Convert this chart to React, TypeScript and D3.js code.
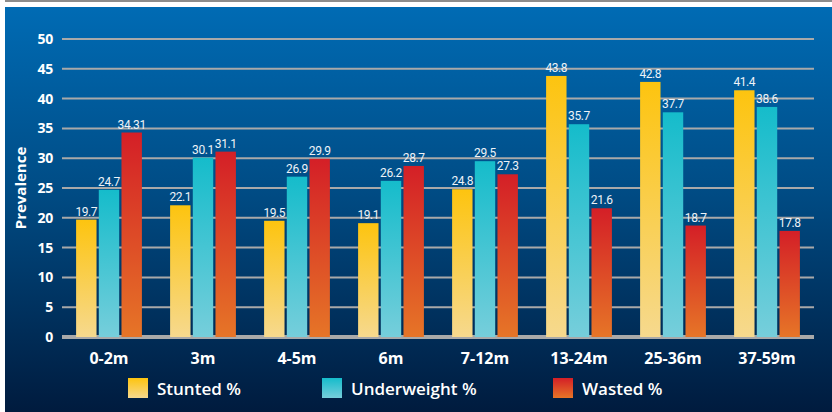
import * as d3 from "d3";

const categories = ["0-2m", "3m", "4-5m", "6m", "7-12m", "13-24m", "25-36m", "37-59m"];
const stunted = [19.7, 22.1, 19.5, 19.1, 24.8, 43.8, 42.8, 41.4];
const underweight = [24.7, 30.1, 26.9, 26.2, 29.5, 35.7, 37.7, 38.6];
const wasted = [34.31, 31.1, 29.9, 28.7, 27.3, 21.6, 18.7, 17.8];
const yTicks = [0, 5, 10, 15, 20, 25, 30, 35, 40, 45, 50];

const series = [
  { key: "stunted", label: "Stunted %", values: stunted, top: "#fdc40f", bottom: "#f6d98e", legendX: 128 },
  { key: "underweight", label: "Underweight %", values: underweight, top: "#15bccb", bottom: "#76cedb", legendX: 322 },
  { key: "wasted", label: "Wasted %", values: wasted, top: "#d41f27", bottom: "#e67527", legendX: 553 },
];

const W = 832;
const H = 412;
const left = 62;
const right = 814;

export default function App() {
  const x0 = d3.scaleBand<string>().domain(categories).range([left, right]).paddingInner(0.3).paddingOuter(0.15);
  const x1 = d3.scaleBand<string>().domain(series.map((s) => s.key)).range([0, x0.bandwidth()]).paddingInner(0.1);
  const y = d3.scaleLinear().domain([0, 50]).range([337, 39]);

  return (
    <>
      <style>{`body{margin:0}`}</style>
      <svg width={W} height={H} style={{ display: "block" }}>
        <defs>
          <linearGradient id="bg" x1="0" y1="0" x2="0" y2="1">
            <stop offset="0%" stopColor="#006bb4" />
            <stop offset="45%" stopColor="#004c85" />
            <stop offset="100%" stopColor="#001b3e" />
          </linearGradient>
          {series.map((s) => (
            <linearGradient key={s.key} id={`g-${s.key}`} x1="0" y1="0" x2="0" y2="1">
              <stop offset="0%" stopColor={s.top} />
              <stop offset="100%" stopColor={s.bottom} />
            </linearGradient>
          ))}
        </defs>

        <rect x={0} y={0} width={W} height={H} fill="#ffffff" />
        <rect x={5} y={0} width={W - 5} height={2} fill="#8c8c8c" />
        <rect x={5} y={7} width={W - 5} height={H - 7} fill="url(#bg)" />

        {/* grid */}
        {yTicks.filter((t) => t > 0).map((t) => (
          <line key={t} x1={left} x2={right} y1={y(t)} y2={y(t)} stroke="#a9a9a9" strokeWidth={2} />
        ))}
        <rect x={left} y={y(0) - 2} width={right - left} height={4} fill="#a9a9a9" />

        {/* y tick labels */}
        {yTicks.map((t) => (
          <text key={t} x={53} y={y(t) + 5} textAnchor="end" fill="#ffffff"
            fontFamily="'Open Sans', sans-serif" fontWeight="bold" fontSize={14} letterSpacing={-0.3}>{t}</text>
        ))}

        <text transform={`translate(26,188) rotate(-90)`} textAnchor="middle" fill="#ffffff"
          fontFamily="'Open Sans', sans-serif" fontWeight="bold" fontSize={15}>Prevalence</text>

        {/* bars */}
        {categories.map((c, i) => (
          <g key={c} transform={`translate(${x0(c)},0)`}>
            {series.map((s) => {
              const v = s.values[i];
              return (
                <g key={s.key}>
                  <rect x={x1(s.key)} y={y(v)} width={x1.bandwidth()} height={y(0) - y(v)} fill={`url(#g-${s.key})`} />
                  <text x={(x1(s.key) ?? 0) + x1.bandwidth() / 2} y={y(v) - 4} textAnchor="middle"
                    fill="#eef3f8" fontFamily="Roboto, sans-serif" fontSize={12} letterSpacing={-0.4}>{String(v)}</text>
                </g>
              );
            })}
          </g>
        ))}

        {/* category labels */}
        {categories.map((c) => (
          <text key={c} x={(x0(c) ?? 0) + x0.bandwidth() / 2} y={364} textAnchor="middle" fill="#ffffff"
            fontFamily="'Open Sans', sans-serif" fontWeight="bold" fontSize={16}>{c}</text>
        ))}

        {/* legend */}
        {series.map((s) => (
          <g key={s.key}>
            <rect x={s.legendX} y={378} width={20} height={20} fill={`url(#g-${s.key})`} />
            <text x={s.legendX + 29} y={395} fill="#ffffff" fontFamily="'Open Sans', sans-serif"
              fontWeight="600" fontSize={17}>{s.label}</text>
          </g>
        ))}
      </svg>
    </>
  );
}
